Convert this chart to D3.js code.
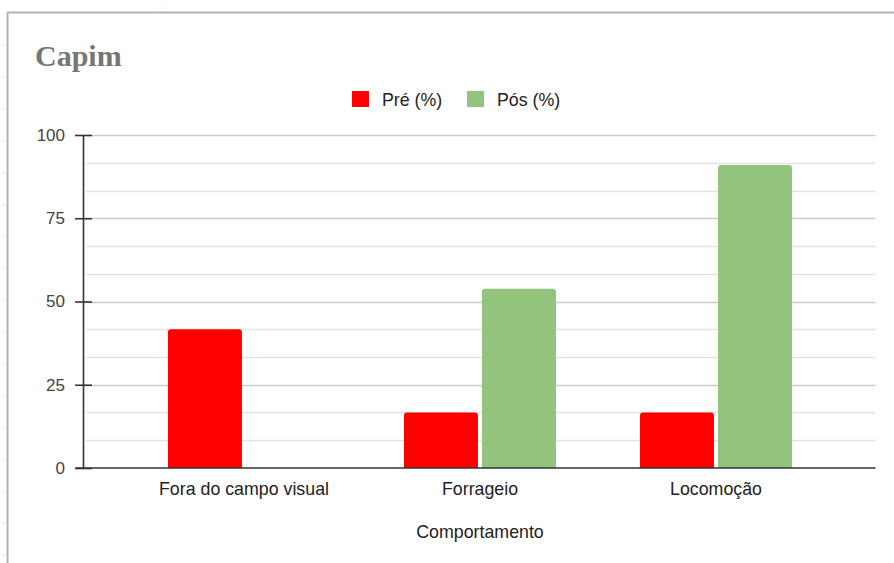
<!DOCTYPE html>
<html>
<head>
<meta charset="utf-8">
<script src="https://cdn.jsdelivr.net/npm/d3@7"></script>
<style>
  html, body { margin: 0; padding: 0; background: #fff; }
  svg { display: block; }
</style>
</head>
<body>
<svg id="chart" width="894" height="563"></svg>
<script>
// Behaviour categories and the two measurement series (percent)
const categories = ["Fora do campo visual", "Forrageio", "Locomoção"];
const seriesNames = ["Pré (%)", "Pós (%)"];
const preValues = [41.67, 16.67, 16.67];
const posValues = [0, 53.85, 91];
const yTicks = [0, 25, 50, 75, 100];
const yMinor = [8.33, 16.67, 33.33, 41.67, 58.33, 66.67, 83.33, 91.67];
const seriesColors = ["#ff0000", "#93c47d"];

const svg = d3.select("#chart");
const font = "Arial, 'Liberation Sans', sans-serif";
const fs = 17.8;

// Sheet-like frame around the chart
svg.append("line").attr("x1", 7).attr("x2", 894).attr("y1", 12.5).attr("y2", 12.5)
  .attr("stroke", "#b4b4b4").attr("stroke-width", 2);
svg.append("line").attr("x1", 7.5).attr("x2", 7.5).attr("y1", 12).attr("y2", 563)
  .attr("stroke", "#b4b4b4").attr("stroke-width", 2);
d3.range(17).forEach(i => {
  svg.append("line").attr("x1", 1).attr("x2", 6)
    .attr("y1", 45 + i * 31.9).attr("y2", 45 + i * 31.9)
    .attr("stroke", "#ececec").attr("stroke-width", 1);
});
svg.append("line").attr("x1", 160).attr("x2", 160).attr("y1", 6).attr("y2", 11)
  .attr("stroke", "#ececec").attr("stroke-width", 1);

const plotL = 83.5, plotR = 876.5, plotT = 135, plotB = 468;

const x0 = d3.scaleBand().domain(categories).range([plotL, plotR])
  .paddingInner(0).paddingOuter(0.18);
const x1 = d3.scaleBand().domain(seriesNames).range([42, 194]).paddingInner(0.052);
const y = d3.scaleLinear().domain([0, 100]).range([plotB, plotT]);

// Title
svg.append("text").attr("x", 35).attr("y", 65.5)
  .attr("font-family", "'Liberation Serif', 'Times New Roman', serif")
  .attr("font-weight", "bold").attr("font-size", 30).attr("fill", "#767676")
  .text("Capim");

// Legend
const legend = svg.append("g");
const legendItems = [{ x: 352, name: seriesNames[0], color: seriesColors[0] },
                     { x: 467, name: seriesNames[1], color: seriesColors[1] }];
legendItems.forEach(it => {
  legend.append("rect").attr("x", it.x).attr("y", 91).attr("width", 17).attr("height", 16)
    .attr("fill", it.color);
  legend.append("text").attr("x", it.x + 30).attr("y", 105.5)
    .attr("font-family", font).attr("font-size", fs).attr("fill", "#222")
    .text(it.name);
});

// Gridlines
svg.append("g").selectAll("line").data(yMinor).join("line")
  .attr("x1", plotL + 2).attr("x2", plotR - 1)
  .attr("y1", d => Math.round(y(d)) + 0.5).attr("y2", d => Math.round(y(d)) + 0.5)
  .attr("stroke", "#e3e3e3").attr("stroke-width", 1.5);
svg.append("g").selectAll("line").data(yTicks.filter(d => d > 0)).join("line")
  .attr("x1", plotL + 2).attr("x2", plotR - 1)
  .attr("y1", d => Math.round(y(d)) + 0.5).attr("y2", d => Math.round(y(d)) + 0.5)
  .attr("stroke", "#cccccc").attr("stroke-width", 1.5);

// Bars with slightly rounded top corners
function barPath(x, yTop, w, yBase, r) {
  const h = yBase - yTop;
  if (h <= 0) return "";
  r = Math.min(r, h, w / 2);
  return `M${x},${yBase}V${yTop + r}Q${x},${yTop} ${x + r},${yTop}` +
         `H${x + w - r}Q${x + w},${yTop} ${x + w},${yTop + r}V${yBase}Z`;
}
const rows = categories.map((c, i) => ({ cat: c, vals: [preValues[i], posValues[i]] }));
const groups = svg.append("g").selectAll("g").data(rows).join("g")
  .attr("transform", d => `translate(${x0(d.cat)},0)`);
groups.selectAll("path").data(d => d.vals.map((v, j) => ({ v, s: seriesNames[j], j })))
  .join("path")
  .attr("d", d => barPath(x1(d.s), y(d.v), x1.bandwidth(), y(0), 3))
  .attr("fill", d => seriesColors[d.j]);

// Y axis
const yAxis = d3.axisLeft(y).tickValues(yTicks).tickSize(0).tickPadding(18);
const yg = svg.append("g").attr("transform", `translate(${plotL - 0.5},0)`).call(yAxis);
yg.select(".domain").attr("stroke", "#333").attr("stroke-width", 1.6);
yg.selectAll(".tick text").attr("font-family", font).attr("font-size", 17).attr("fill", "#444");
yg.selectAll(".tick").append("line").attr("x1", -8).attr("x2", 9)
  .attr("stroke", "#333").attr("stroke-width", 1.6);

// Baseline
svg.append("line").attr("x1", plotL - 8).attr("x2", plotR - 1)
  .attr("y1", y(0)).attr("y2", y(0)).attr("stroke", "#333").attr("stroke-width", 1.6);

// X axis labels
const xAxis = d3.axisBottom(x0).tickSize(0).tickPadding(14);
const xg = svg.append("g").attr("transform", `translate(0,${plotB})`).call(xAxis);
xg.select(".domain").remove();
xg.selectAll(".tick text").attr("font-family", font).attr("font-size", fs).attr("fill", "#222");

// X axis title
svg.append("text").attr("x", 480).attr("y", 538).attr("text-anchor", "middle")
  .attr("font-family", font).attr("font-size", fs).attr("fill", "#222")
  .text("Comportamento");
</script>
</body>
</html>
